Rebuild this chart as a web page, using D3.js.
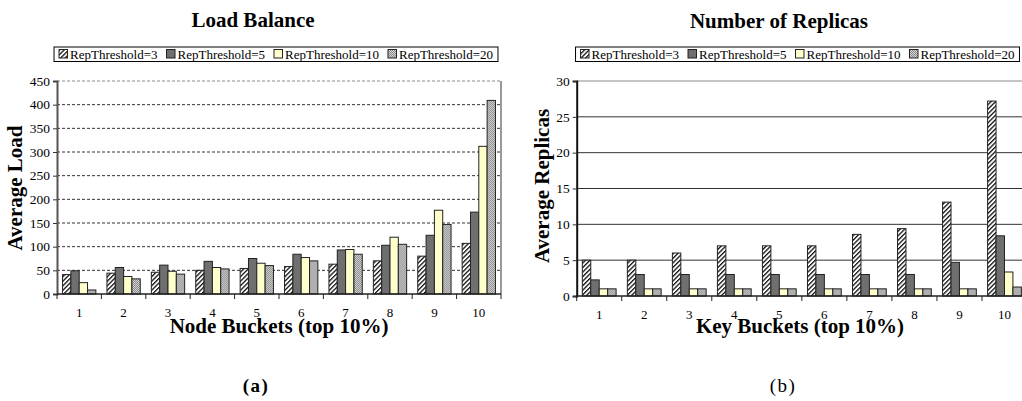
<!DOCTYPE html>
<html>
<head>
<meta charset="utf-8">
<script src="https://cdn.jsdelivr.net/npm/d3@7/dist/d3.min.js"></script>
<style>
  html, body { margin: 0; padding: 0; background: #fff; }
  svg { display: block; }
  text { font-family: "Liberation Serif", "Times New Roman", serif; fill: #000; }
</style>
</head>
<body>
<svg id="fig" width="1022" height="401"></svg>
<script>
// Bucket labels shared by both panels
const buckets = ["1", "2", "3", "4", "5", "6", "7", "8", "9", "10"];
const seriesNames = ["RepThreshold=3", "RepThreshold=5", "RepThreshold=10", "RepThreshold=20"];

// Panel (a): average load per node bucket
const loadRep3  = [41, 44, 46, 50, 54, 58, 63, 70, 80, 107];
const loadRep5  = [49, 56, 61, 69, 75, 84, 93, 103, 124, 173];
const loadRep10 = [24, 37, 48, 56, 65, 77, 94, 120, 177, 312];
const loadRep20 = [8.5, 32, 42, 53, 60, 70, 84, 105, 147, 409];
const loadTicks = [0, 50, 100, 150, 200, 250, 300, 350, 400, 450];

// Panel (b): average number of replicas per key bucket
const repRep3  = [5, 5, 6, 7, 7, 7, 8.6, 9.4, 13.1, 27.2];
const repRep5  = [2.25, 3, 3, 3, 3, 3, 3, 3, 4.7, 8.4];
const repRep10 = [1, 1, 1, 1, 1, 1, 1, 1, 1, 3.35];
const repRep20 = [1, 1, 1, 1, 1, 1, 1, 1, 1, 1.25];
const repTicks = [0, 5, 10, 15, 20, 25, 30];

const svg = d3.select("#fig");
const defs = svg.append("defs");

// Fill patterns: diagonal hatch, dark grey, pale yellow, grey dither
const hatch = defs.append("pattern").attr("id", "hatch")
  .attr("patternUnits", "userSpaceOnUse").attr("width", 3.2).attr("height", 3.2)
  .attr("patternTransform", "rotate(45)");
hatch.append("rect").attr("width", 3.2).attr("height", 3.2).attr("fill", "#fff");
hatch.append("rect").attr("width", 1.3).attr("height", 3.2).attr("fill", "#111");

const dither = defs.append("pattern").attr("id", "dither")
  .attr("patternUnits", "userSpaceOnUse").attr("width", 2).attr("height", 2);
dither.append("rect").attr("width", 2).attr("height", 2).attr("fill", "#d4d4d4");
dither.append("rect").attr("width", 1).attr("height", 1).attr("fill", "#8a8a8a");
dither.append("rect").attr("x", 1).attr("y", 1).attr("width", 1).attr("height", 1).attr("fill", "#8a8a8a");

const fills = ["url(#hatch)", "#6f6f6f", "#ffffcc", "url(#dither)"];

function drawPanel(p) {
  const g = svg.append("g");
  const x = d3.scaleBand().domain(buckets).range([p.x0, p.x1])
    .paddingInner(0.25).paddingOuter(0.125);
  const xs = d3.scaleBand().domain(d3.range(4)).range([0, x.bandwidth()]);
  const y = d3.scaleLinear().domain([0, p.ymax]).range([p.yBottom, p.yTop]);

  // Gridlines
  g.append("g").selectAll("line").data(p.ticks.filter(t => t > 0)).join("line")
    .attr("x1", p.x0).attr("x2", p.x1)
    .attr("y1", d => y(d)).attr("y2", d => y(d))
    .attr("stroke", d => d === p.ymax ? "#8a8a8a" : "#333")
    .attr("stroke-width", 1)
    .attr("stroke-dasharray", p.dashed ? "3,2" : null);

  if (p.rightBorder) {
    g.append("line").attr("x1", p.x1).attr("x2", p.x1)
      .attr("y1", y(p.ymax)).attr("y2", y(0))
      .attr("stroke", "#777").attr("stroke-width", 1.5);
  }

  // Bars
  const groups = g.append("g").selectAll("g").data(buckets).join("g")
    .attr("transform", d => `translate(${x(d)},0)`);
  groups.selectAll("rect").data((d, i) => p.series.map((s, k) => ({ k, v: s[i] }))).join("rect")
    .attr("x", d => xs(d.k))
    .attr("y", d => y(d.v))
    .attr("width", xs.bandwidth())
    .attr("height", d => y(0) - y(d.v))
    .attr("fill", d => fills[d.k])
    .attr("stroke", "#222").attr("stroke-width", 1);

  // Y axis
  const yAxis = d3.axisLeft(y).tickValues(p.ticks).tickSize(4).tickPadding(3).tickFormat(d3.format("d"));
  const ya = g.append("g").attr("transform", `translate(${p.x0},0)`).call(yAxis);
  ya.select(".domain").attr("stroke", p.axisColor).attr("stroke-width", 2);
  ya.selectAll(".tick line").attr("stroke", "#333");
  ya.selectAll(".tick text").attr("font-family", "Liberation Serif").attr("font-size", 13.5).attr("fill", "#222");

  // X axis: ticks at bucket boundaries, labels at bucket centres
  const xa = g.append("g").attr("transform", `translate(0,${p.yBottom})`);
  xa.append("line").attr("x1", p.x0).attr("x2", p.x1).attr("stroke", "#222").attr("stroke-width", 1.5);
  const step = x.step();
  xa.selectAll("line.tk").data(d3.range(buckets.length + 1)).join("line").attr("class", "tk")
    .attr("x1", i => p.x0 + i * step).attr("x2", i => p.x0 + i * step)
    .attr("y1", 0).attr("y2", 5).attr("stroke", "#222");
  xa.selectAll("text").data(buckets).join("text")
    .attr("x", d => x(d) + x.bandwidth() / 2).attr("y", p.xLabelDy)
    .attr("text-anchor", "middle").attr("font-size", 13).attr("fill", "#222").text(d => d);

  // Titles
  g.append("text").attr("x", p.titleX).attr("y", p.titleY).attr("text-anchor", "middle")
    .attr("font-weight", "bold").attr("font-size", 21).text(p.title);
  g.append("text").attr("x", p.xTitleX).attr("y", 333).attr("text-anchor", "middle")
    .attr("font-weight", "bold").attr("font-size", 21).text(p.xTitle);
  g.append("text").attr("transform", `translate(${p.yTitleX},${p.yTitleY}) rotate(-90)`)
    .attr("text-anchor", "middle").attr("font-weight", "bold").attr("font-size", 21).text(p.yTitle);

  // Legend
  const lg = g.append("g");
  const items = lg.selectAll("g").data(seriesNames).join("g");
  items.append("text").attr("font-size", 13).attr("y", 58.5).text(d => d);
  let cx = 0;
  const pos = [];
  items.each(function (d, i) {
    const w = this.querySelector("text").getComputedTextLength();
    pos.push(cx);
    cx += 11 + w + (i < seriesNames.length - 1 ? 9 : 0);
  });
  const totalW = cx + 10;
  const left = p.legendCX - totalW / 2;
  lg.insert("rect", ":first-child").attr("x", left).attr("y", 47).attr("width", totalW).attr("height", 14.5)
    .attr("fill", "#fff").attr("stroke", "#000").attr("stroke-width", 1);
  items.each(function (d, i) {
    const it = d3.select(this);
    it.insert("rect", ":first-child").attr("x", left + 5 + pos[i]).attr("y", 49.5)
      .attr("width", 8.5).attr("height", 8.5).attr("fill", fills[i]).attr("stroke", "#222");
    it.select("text").attr("x", left + 5 + pos[i] + 11);
  });

  // Caption
  g.append("text").attr("x", p.capX).attr("y", 392).attr("text-anchor", "middle")
    .attr("font-family", "DejaVu Serif").attr("font-weight", p.capBold ? "bold" : "normal")
    .attr("font-size", 19).attr("letter-spacing", 1.5).text(p.caption);
}

drawPanel({
  x0: 57, x1: 501, yTop: 81, yBottom: 294, ymax: 450, ticks: loadTicks,
  series: [loadRep3, loadRep5, loadRep10, loadRep20],
  dashed: true, rightBorder: true, axisColor: "#555", xLabelDy: 23,
  title: "Load Balance", titleX: 253, titleY: 27,
  xTitle: "Node Buckets (top 10%)", xTitleX: 279,
  yTitle: "Average Load", yTitleX: 22, yTitleY: 188,
  legendCX: 276, caption: "(a)", capX: 256, capBold: true
});

drawPanel({
  x0: 576.7, x1: 1027, yTop: 81, yBottom: 296, ymax: 30, ticks: repTicks,
  series: [repRep3, repRep5, repRep10, repRep20],
  dashed: false, rightBorder: false, axisColor: "#111", xLabelDy: 23,
  title: "Number of Replicas", titleX: 779, titleY: 28,
  xTitle: "Key Buckets (top 10%)", xTitleX: 800,
  yTitle: "Average Replicas", yTitleX: 549, yTitleY: 186,
  legendCX: 797.5, caption: "(b)", capX: 783, capBold: false
});
</script>
</body>
</html>
